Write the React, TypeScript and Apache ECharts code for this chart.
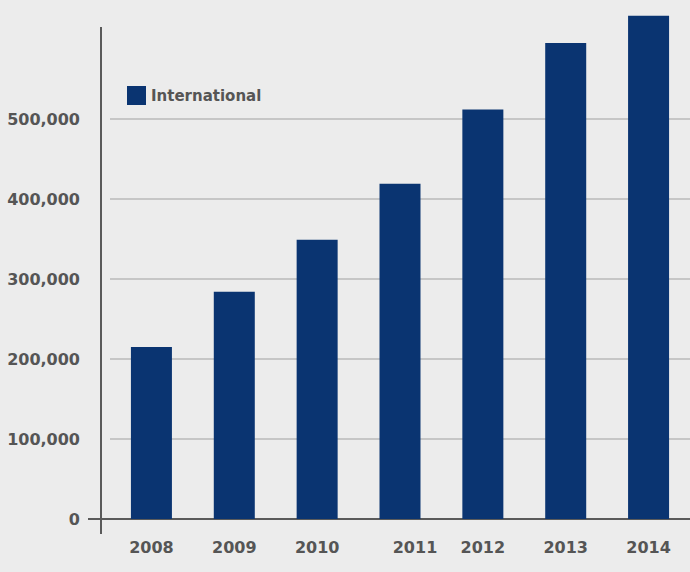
import React, { useEffect, useRef } from "react";
import * as echarts from "echarts";

const categories = ["2008", "2009", "2010", "2011", "2012", "2013", "2014"];
const international = [215000, 284000, 349000, 419000, 512000, 595000, 629000];
const seriesName = "International";

const FONT = "DejaVu Sans";
const AXIS_COLOR = "#5a5a5a";
const LABEL_COLOR = "#555555";

export default function App() {
  const ref = useRef<HTMLDivElement>(null);
  useEffect(() => {
    if (!ref.current) return;
    const chart = echarts.init(ref.current, null, { renderer: "svg" });
    chart.setOption({
      animation: false,
      backgroundColor: "#ececec",
      grid: { left: 110, right: 0, top: 39, bottom: 53, containLabel: false },
      legend: {
        left: 127,
        top: 86,
        padding: 0,
        icon: "rect",
        itemWidth: 19,
        itemHeight: 19,
        itemGap: 10,
        textStyle: { fontFamily: FONT, fontSize: 15, fontWeight: "bold", color: LABEL_COLOR },
        data: [seriesName],
      },
      xAxis: {
        type: "category",
        data: categories,
        axisLine: { show: true, lineStyle: { color: AXIS_COLOR, width: 2 } },
        axisTick: { show: false },
        axisLabel: {
          interval: 0,
          hideOverlap: false,
          margin: 20,
          fontFamily: FONT,
          fontSize: 16,
          fontWeight: "bold",
          color: LABEL_COLOR,
          formatter: (v: string) => (v === "2011" ? "{off|" + v + "}" : v),
          rich: {
            off: {
              fontFamily: FONT,
              fontSize: 16,
              fontWeight: "bold",
              color: LABEL_COLOR,
              padding: [0, 0, 0, 30],
            },
          },
        },
      },
      yAxis: {
        type: "value",
        min: 0,
        max: 600000,
        interval: 100000,
        offset: 9,
        axisLine: { show: false },
        axisTick: { show: false },
        splitLine: {
          show: true,
          showMaxLine: false,
          lineStyle: { color: "#c6c6c6", width: 2 },
        },
        axisLabel: {
          margin: 21,
          showMaxLabel: false,
          fontFamily: FONT,
          fontSize: 16,
          fontWeight: "bold",
          color: LABEL_COLOR,
          formatter: (v: number) => (v > 500000 ? "" : v.toLocaleString("en-US")),
        },
      },
      series: [
        {
          name: seriesName,
          type: "bar",
          data: international,
          barWidth: 41,
          clip: false,
          itemStyle: { color: "#0a3471" },
        },
      ],
      graphic: [
        {
          type: "line",
          shape: { x1: 101, y1: 27, x2: 101, y2: 534 },
          style: { stroke: AXIS_COLOR, lineWidth: 2 },
          z: 100,
        },
        {
          type: "line",
          shape: { x1: 88, y1: 519, x2: 112, y2: 519 },
          style: { stroke: AXIS_COLOR, lineWidth: 2 },
          z: 100,
        },
      ],
    });
    return () => chart.dispose();
  }, []);
  return (
    <div
      ref={ref}
      style={{ position: "absolute", left: 0, top: 0, width: 690, height: 572 }}
    />
  );
}
